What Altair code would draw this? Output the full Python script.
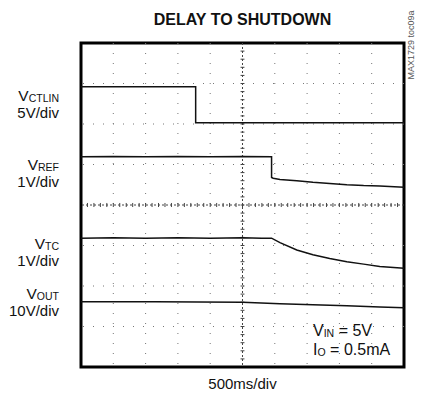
import altair as alt
import pandas as pd

# ---- trace data (time in divisions, 500ms/div; level in vertical divisions) ----
ctl_t = [0, 3.55, 3.55, 10]
ctl_v = [6.92, 6.92, 6.03, 6.03]

ref_t = [0, 1.0, 2.0, 3.0, 4.0, 5.0, 5.90, 5.90, 5.95, 6.16, 6.68, 7.18, 7.70, 8.23, 8.75, 9.25, 10]
ref_v = [5.19, 5.20, 5.19, 5.20, 5.19, 5.20, 5.19, 4.68, 4.66, 4.63, 4.60, 4.56, 4.53, 4.50, 4.48, 4.47, 4.44]

tc_t = [0, 1.0, 2.0, 3.0, 4.0, 5.0, 5.60, 5.90, 6.16, 6.68, 7.18, 7.70, 8.23, 8.75, 9.25, 10]
tc_v = [3.18, 3.19, 3.18, 3.19, 3.18, 3.19, 3.18, 3.18, 3.07, 2.89, 2.77, 2.68, 2.60, 2.54, 2.48, 2.44]

out_t = [0, 2.3, 5.0, 6.16, 7.18, 8.23, 9.25, 10]
out_v = [1.61, 1.61, 1.60, 1.56, 1.54, 1.51, 1.48, 1.46]

# ---- texts ----
title_text = "DELAY TO SHUTDOWN"
xlabel_text = "500ms/div"
code_text = "MAX1729 toc09a"
ch_main = ["V", "V", "V", "V"]
ch_sub = ["CTLIN", "REF", "TC", "OUT"]
ch_scale = ["5V/div", "1V/div", "1V/div", "10V/div"]

FONT = "Liberation Sans, Arial, Helvetica, sans-serif"
W, H = 323, 324
NX, NY = 10, 8

rows = []
for name, ts, vs in [("ctl", ctl_t, ctl_v), ("ref", ref_t, ref_v),
                     ("tc", tc_t, tc_v), ("out", out_t, out_v)]:
    for i, (t, v) in enumerate(zip(ts, vs)):
        rows.append({"trace": name, "t": t, "v": v, "i": i})
df = pd.DataFrame(rows)

xs = alt.Scale(domain=[0, NX], nice=False, zero=False)
ys = alt.Scale(domain=[0, NY], nice=False, zero=False)

# grid
gx = pd.DataFrame({"x": [k for k in range(1, NX) if k != NX // 2]})
gy = pd.DataFrame({"y": [k for k in range(1, NY) if k != NY // 2]})
grid_x = alt.Chart(gx).mark_rule(color="#777", strokeWidth=1, strokeDash=[1, 9]).encode(
    x=alt.X("x:Q", scale=xs, axis=None))
grid_y = alt.Chart(gy).mark_rule(color="#777", strokeWidth=1, strokeDash=[1, 9]).encode(
    y=alt.Y("y:Q", scale=ys, axis=None))

cx = pd.DataFrame({"x": [NX / 2]})
cy = pd.DataFrame({"y": [NY / 2]})
center_x = alt.Chart(cx).mark_rule(color="#444", strokeWidth=1, strokeDash=[2, 2]).encode(
    x=alt.X("x:Q", scale=xs, axis=None))
center_y = alt.Chart(cy).mark_rule(color="#444", strokeWidth=1, strokeDash=[2, 2]).encode(
    y=alt.Y("y:Q", scale=ys, axis=None))

tv = pd.DataFrame({"y": [k * 0.2 for k in range(1, NY * 5)], "x": NX / 2 - 0.06, "x2": NX / 2 + 0.06})
th = pd.DataFrame({"x": [k * 0.2 for k in range(1, NX * 5)], "y": NY / 2 - 0.05, "y2": NY / 2 + 0.05})
ticks_v = alt.Chart(tv).mark_rule(color="#444", strokeWidth=1).encode(
    x=alt.X("x:Q", scale=xs, axis=None), x2="x2:Q", y=alt.Y("y:Q", scale=ys, axis=None))
ticks_h = alt.Chart(th).mark_rule(color="#444", strokeWidth=1).encode(
    y=alt.Y("y:Q", scale=ys, axis=None), y2="y2:Q", x=alt.X("x:Q", scale=xs, axis=None))

lines = alt.Chart(df).mark_line(color="#111", strokeWidth=1.5).encode(
    x=alt.X("t:Q", scale=xs, axis=None),
    y=alt.Y("v:Q", scale=ys, axis=None),
    detail="trace:N",
    order="i:Q",
)


def txt(s, x, y, size, align="left", weight="normal", color="#111", angle=0):
    return alt.Chart(pd.DataFrame({"s": [s]})).mark_text(
        align=align, baseline="alphabetic", fontSize=size, font=FONT,
        fontWeight=weight, color=color, angle=angle,
    ).encode(text="s:N", x=alt.value(x), y=alt.value(y))


# approximate Arial advance widths (per em)
AW = {"C": .722, "T": .611, "L": .556, "I": .278, "N": .722, "R": .722,
      "E": .667, "F": .611, "O": .778, "U": .722, "V": .667}


def width(s, size):
    return sum(AW.get(c, .556) for c in s) * size


texts = []
texts.append(txt(title_text, W / 2, -18, 16, align="center", weight="bold"))
texts.append(txt(xlabel_text, W / 2, 346, 15, align="center"))
texts.append(txt(code_text, 333, 2, 9, align="center", color="#555", angle=270))

RIGHT = -22
MAIN, SUB, SCALE = 15.5, 10.5, 15
base1 = [58, 127, 206, 256]
for m, sub, sc, b in zip(ch_main, ch_sub, ch_scale, base1):
    texts.append(txt(sub, RIGHT, b + 1, SUB, align="right"))
    texts.append(txt(m, RIGHT - width(sub, SUB), b, MAIN, align="right"))
    texts.append(txt(sc, RIGHT, b + 17, SCALE, align="right"))

# annotation inside the plot
IX, IS, ISUB, GAP = 232, 16, 10.5, 4.5
texts.append(txt("V", IX, 293, IS))
texts.append(txt("IN", IX + width("V", IS), 294, ISUB))
texts.append(txt("= 5V", IX + width("V", IS) + width("IN", ISUB) + GAP, 293, IS))
texts.append(txt("I", IX, 312, IS))
texts.append(txt("O", IX + width("I", IS), 313, ISUB))
texts.append(txt("= 0.5mA", IX + width("I", IS) + width("O", ISUB) + GAP, 312, IS))

chart = alt.layer(grid_x, grid_y, center_x, center_y, ticks_v, ticks_h, lines, *texts).properties(
    width=W, height=H,
    autosize=alt.AutoSizeParams(type="none"),
    padding={"left": 73, "top": 35, "right": 11, "bottom": 25},
).configure_view(stroke="black", strokeWidth=3)

chart.save("out.html", embed_options={"renderer": "svg", "actions": False})
